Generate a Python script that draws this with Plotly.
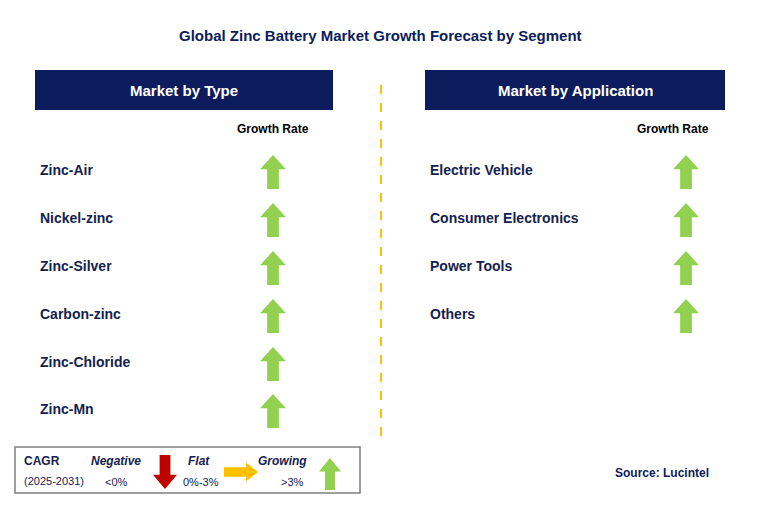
import plotly.graph_objects as go

# data
title = "Global Zinc Battery Market Growth Forecast by Segment"
type_labels = ["Zinc-Air", "Nickel-zinc", "Zinc-Silver", "Carbon-zinc", "Zinc-Chloride", "Zinc-Mn"]
type_status = ["Growing"] * 6
app_labels = ["Electric Vehicle", "Consumer Electronics", "Power Tools", "Others"]
app_status = ["Growing"] * 4
row_y = [172, 220, 268, 316, 364, 411]

NAVY = "#0c1c5c"
TXT = "#14214f"
GREEN = "#92d050"
RED = "#c00000"
YEL = "#ffc000"
FONT = "Liberation Sans"

fig = go.Figure()
shapes = []
ann = []


def up_arrow(cx, cy, w=26, h=34, color=GREEN):
    top, bot = cy - h / 2, cy + h / 2
    hh = h * 0.42
    sw = w * 0.45
    p = (f"M {cx} {top} L {cx + w/2} {top + hh} L {cx + sw/2} {top + hh} L {cx + sw/2} {bot} "
         f"L {cx - sw/2} {bot} L {cx - sw/2} {top + hh} L {cx - w/2} {top + hh} Z")
    return dict(type="path", path=p, fillcolor=color, line=dict(width=0), layer="above")


def down_arrow(cx, cy, w=26, h=34, color=RED):
    top, bot = cy - h / 2, cy + h / 2
    hh = h * 0.42
    sw = w * 0.45
    p = (f"M {cx} {bot} L {cx + w/2} {bot - hh} L {cx + sw/2} {bot - hh} L {cx + sw/2} {top} "
         f"L {cx - sw/2} {top} L {cx - sw/2} {bot - hh} L {cx - w/2} {bot - hh} Z")
    return dict(type="path", path=p, fillcolor=color, line=dict(width=0), layer="above")


def right_arrow(cx, cy, w=34, h=18, color=YEL):
    l, r = cx - w / 2, cx + w / 2
    hw = w * 0.35
    sh = h * 0.5
    p = (f"M {r} {cy} L {r - hw} {cy - h/2} L {r - hw} {cy - sh/2} L {l} {cy - sh/2} "
         f"L {l} {cy + sh/2} L {r - hw} {cy + sh/2} L {r - hw} {cy + h/2} Z")
    return dict(type="path", path=p, fillcolor=color, line=dict(width=0), layer="above")


def status_arrow(s, cx, cy):
    if s == "Growing":
        return up_arrow(cx, cy)
    if s == "Negative":
        return down_arrow(cx, cy)
    return right_arrow(cx, cy)


def text(x, y, t, size=14, color=TXT, anchor="left", bold=True, italic=False):
    s = t
    if bold:
        s = f"<b>{s}</b>"
    if italic:
        s = f"<i>{s}</i>"
    ann.append(dict(x=x, y=y, text=s, showarrow=False, xanchor=anchor, yanchor="middle",
                    font=dict(family=FONT, size=size, color=color)))


text(380, 35, title, size=15, color=NAVY, anchor="center")

# headers
for x0, x1, t in [(35, 333, "Market by Type"), (425, 725, "Market by Application")]:
    shapes.append(dict(type="rect", x0=x0, x1=x1, y0=70, y1=110, fillcolor=NAVY, line=dict(width=0)))
    text((x0 + x1) / 2, 90, t, size=15, color="white", anchor="center")

text(273, 129, "Growth Rate", size=12, color="black", anchor="center")
text(673, 129, "Growth Rate", size=12, color="black", anchor="center")

for lab, s, y in zip(type_labels, type_status, row_y):
    text(38, y - 2, lab)
    shapes.append(status_arrow(s, 273, y))
for lab, s, y in zip(app_labels, app_status, row_y):
    text(428, y - 2, lab)
    shapes.append(status_arrow(s, 686, y))

# divider
shapes.append(dict(type="line", x0=381, x1=381, y0=85, y1=440, line=dict(color=YEL, width=2, dash="dash")))

# legend
shapes.append(dict(type="rect", x0=15, x1=360, y0=447, y1=493, fillcolor="white", line=dict(color="#7f7f7f", width=1.5)))
text(22, 461, "CAGR", size=12)
text(22, 481, "(2025-2031)", size=11, bold=False)
text(116, 461, "Negative", size=12, anchor="center", italic=True)
text(116, 482, "&lt;0%", size=11, anchor="center", bold=False)
shapes.append(down_arrow(165, 472, w=24, h=34))
text(199, 461, "Flat", size=12, anchor="center", italic=True)
text(201, 482, "0%-3%", size=11, anchor="center", bold=False)
shapes.append(right_arrow(241, 472, w=34, h=19))
text(282, 461, "Growing", size=12, anchor="center", italic=True)
text(292, 482, "&gt;3%", size=11, anchor="center", bold=False)
shapes.append(up_arrow(330, 474, w=22, h=32))

text(662, 473, "Source: Lucintel", size=12, color=NAVY, anchor="center")

fig.update_layout(width=774, height=511, margin=dict(l=0, r=0, t=0, b=0),
                  paper_bgcolor="white", plot_bgcolor="white",
                  shapes=shapes, annotations=ann, showlegend=False)
# page body adds an 8px offset, so shift the canvas to compensate
fig.update_xaxes(range=[8, 782], visible=False, fixedrange=True)
fig.update_yaxes(range=[519, 8], visible=False, fixedrange=True)
fig.write_html("out.html")
